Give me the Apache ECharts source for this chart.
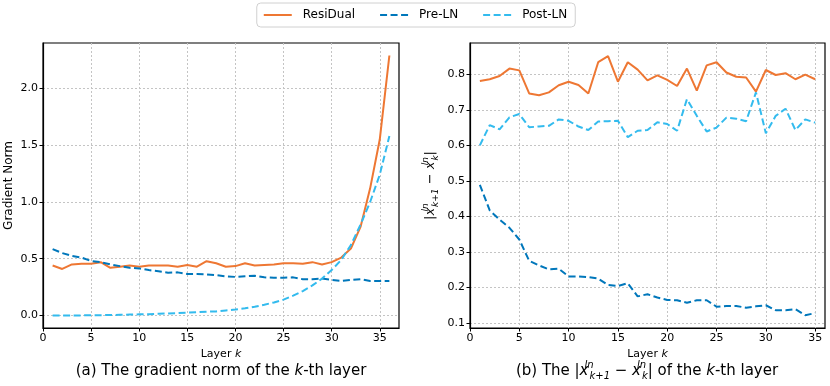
<!DOCTYPE html>
<html>
<head>
<meta charset="utf-8">
<script src="https://cdn.jsdelivr.net/npm/echarts@6/dist/echarts.min.js"></script>
<style>
  html, body { margin: 0; padding: 0; background: #fff; }
  #chart { width: 830px; height: 386px; }
</style>
</head>
<body>
<div id="chart"></div>
<script>
const seriesNames = ['ResiDual', 'Pre-LN', 'Post-LN']
const colors = ['#EE7733', '#0077BB', '#33BBEE']

// (a) gradient norm, layers 1..36
const layersA = [1, 2, 3, 4, 5, 6, 7, 8, 9, 10, 11, 12, 13, 14, 15, 16, 17, 18,
  19, 20, 21, 22, 23, 24, 25, 26, 27, 28, 29, 30, 31, 32, 33, 34, 35, 36]
const residualGrad = [0.44, 0.41, 0.45, 0.455, 0.455, 0.47, 0.42, 0.43, 0.44, 0.43, 0.44, 0.44,
  0.44, 0.43, 0.445, 0.43, 0.478, 0.46, 0.43, 0.435, 0.46, 0.44, 0.445, 0.45,
  0.46, 0.46, 0.455, 0.47, 0.45, 0.47, 0.51, 0.59, 0.78, 1.12, 1.55, 2.29]
const preLNGrad = [0.585, 0.55, 0.525, 0.51, 0.48, 0.47, 0.45, 0.435, 0.42, 0.415, 0.40, 0.39,
  0.377, 0.38, 0.365, 0.365, 0.362, 0.355, 0.345, 0.34, 0.345, 0.35, 0.336, 0.333,
  0.333, 0.336, 0.32, 0.32, 0.325, 0.313, 0.304, 0.313, 0.32, 0.304, 0.304, 0.305]
const postLNGrad = [0.0, 0.0, 0.0, 0.001, 0.002, 0.003, 0.004, 0.006, 0.008, 0.01, 0.012, 0.015,
  0.018, 0.021, 0.025, 0.029, 0.034, 0.036, 0.045, 0.053, 0.063, 0.077, 0.095, 0.115,
  0.14, 0.175, 0.215, 0.265, 0.325, 0.4, 0.49, 0.62, 0.8, 1.0, 1.24, 1.58]

// (b) |x_{k+1} - x_k|, layers 1..35
const layersB = [1, 2, 3, 4, 5, 6, 7, 8, 9, 10, 11, 12, 13, 14, 15, 16, 17, 18,
  19, 20, 21, 22, 23, 24, 25, 26, 27, 28, 29, 30, 31, 32, 33, 34, 35]
const residualDiff = [0.781, 0.786, 0.795, 0.816, 0.811, 0.746, 0.741, 0.749, 0.769, 0.779, 0.77, 0.746,
  0.834, 0.851, 0.779, 0.834, 0.813, 0.783, 0.797, 0.784, 0.767, 0.816, 0.754, 0.825,
  0.834, 0.805, 0.793, 0.791, 0.751, 0.812, 0.798, 0.803, 0.786, 0.799, 0.786]
const preLNDiff = [0.489, 0.417, 0.391, 0.368, 0.335, 0.275, 0.262, 0.251, 0.253, 0.231, 0.231, 0.229,
  0.225, 0.207, 0.204, 0.212, 0.175, 0.181, 0.172, 0.165, 0.164, 0.157, 0.164, 0.164,
  0.146, 0.148, 0.148, 0.143, 0.147, 0.15, 0.136, 0.136, 0.139, 0.122, 0.128]
const postLNDiff = [0.60, 0.657, 0.645, 0.679, 0.688, 0.651, 0.653, 0.655, 0.673, 0.669, 0.653, 0.643,
  0.667, 0.668, 0.669, 0.623, 0.641, 0.643, 0.665, 0.66, 0.641, 0.73, 0.683, 0.639,
  0.65, 0.678, 0.675, 0.668, 0.749, 0.634, 0.683, 0.703, 0.643, 0.673, 0.664]

const FONT = 'DejaVu Sans'
const mathRich = (size, small) => ({
  i: { fontFamily: FONT, fontSize: size, fontStyle: 'italic' },
  sup: { fontFamily: FONT, fontStyle: 'italic', fontSize: small, verticalAlign: 'top', width: 1 },
  sub: { fontFamily: FONT, fontStyle: 'italic', fontSize: small, verticalAlign: 'bottom' },
})
const diffLabel = '|{i|x}{sup|ln}{sub|k+1} \u2212 {i|x}{sup|ln}{sub|k}|'

const pairs = (xs, ys) => xs.map((x, i) => [x, ys[i]])

const gridLine = { show: true, showMinLine: false, showMaxLine: false,
  lineStyle: { color: '#c4c4c4', type: [2, 2], width: 1 } }

const xAxisBase = (gridIndex, max) => ({
  type: 'value', gridIndex, min: 0, max, interval: 5,
  name: 'Layer {i|k}', nameLocation: 'middle', nameGap: 18,
  nameTextStyle: { fontFamily: FONT, fontSize: 11, color: '#000', rich: mathRich(11, 8) },
  axisLine: { show: true, onZero: false, lineStyle: { color: '#000', width: 1.2 } },
  axisTick: { show: true, length: 3.5, lineStyle: { color: '#000' } },
  axisLabel: { fontFamily: FONT, fontSize: 11, color: '#000', margin: 5, showMaxLabel: false,
    formatter: v => (v % 5 === 0 ? String(v) : '') },
  splitLine: gridLine,
})

// no interval here: the limits are not multiples of the step, so let splitNumber pick 0.5 / 0.1
const yAxisBase = (gridIndex, min, max, splitNumber, step) => ({
  type: 'value', gridIndex, min, max, splitNumber,
  nameLocation: 'middle',
  axisLine: { show: true, onZero: false, lineStyle: { color: '#000', width: 1.2 } },
  axisTick: { show: true, length: 3.5, lineStyle: { color: '#000' } },
  axisLabel: { fontFamily: FONT, fontSize: 11, color: '#000', margin: 5,
    showMinLabel: false, showMaxLabel: false,
    formatter: v => (Math.abs(v / step - Math.round(v / step)) < 1e-6 ? v.toFixed(1) : '') },
  splitLine: gridLine,
})

const lineSeries = (name, idx, data, dashed) => ({
  name, type: 'line', xAxisIndex: idx, yAxisIndex: idx,
  data, symbol: 'none', smooth: false, animation: false,
  lineStyle: { width: 2, color: colors[seriesNames.indexOf(name)], type: dashed ? [7, 3.5] : 'solid' },
  itemStyle: { color: colors[seriesNames.indexOf(name)] },
})

var myChart = echarts.init(document.getElementById('chart'), null, { renderer: 'canvas' })
myChart.setOption({
  animation: false,
  color: colors,
  textStyle: { fontFamily: FONT },
  legend: {
    data: seriesNames, left: 'center', top: 3,
    itemWidth: 28, itemHeight: 12, itemGap: 24,
    itemStyle: { opacity: 0 },
    padding: [6, 8, 6, 6], borderColor: '#d0d0d0', borderWidth: 1, borderRadius: 4,
    textStyle: { fontFamily: FONT, fontSize: 12, color: '#000', padding: [0, 0, 0, 6] },
  },
  grid: [
    { left: 43, top: 43, width: 356, height: 285, show: true, borderColor: '#000', borderWidth: 1.2 },
    { left: 470, top: 43, width: 355, height: 285, show: true, borderColor: '#000', borderWidth: 1.2 },
  ],
  xAxis: [xAxisBase(0, 37), xAxisBase(1, 36)],
  yAxis: [
    Object.assign(yAxisBase(0, -0.11, 2.40, 5, 0.5), {
      name: 'Gradient Norm', nameGap: 28,
      nameTextStyle: { fontFamily: FONT, fontSize: 12, color: '#000' },
    }),
    Object.assign(yAxisBase(1, 0.086, 0.888, 8, 0.1), {
      name: diffLabel, nameGap: 30,
      nameTextStyle: { fontFamily: FONT, fontSize: 13, lineHeight: 19, color: '#000', rich: mathRich(13, 9) },
    }),
  ],
  graphic: [
    { type: 'text', x: 221, y: 371, style: {
      text: '(a) The gradient norm of the {i|k}-th layer', align: 'center', verticalAlign: 'middle',
      fontFamily: FONT, fontSize: 15, fill: '#000', rich: mathRich(15, 10) } },
    { type: 'text', x: 647, y: 371, style: {
      text: '(b) The ' + diffLabel + ' of the {i|k}-th layer', align: 'center', verticalAlign: 'middle',
      fontFamily: FONT, fontSize: 15, lineHeight: 21, fill: '#000', rich: mathRich(15, 10) } },
  ],
  series: [
    lineSeries('ResiDual', 0, pairs(layersA, residualGrad), false),
    lineSeries('Pre-LN', 0, pairs(layersA, preLNGrad), true),
    lineSeries('Post-LN', 0, pairs(layersA, postLNGrad), true),
    lineSeries('ResiDual', 1, pairs(layersB, residualDiff), false),
    lineSeries('Pre-LN', 1, pairs(layersB, preLNDiff), true),
    lineSeries('Post-LN', 1, pairs(layersB, postLNDiff), true),
  ],
})
</script>
</body>
</html>
